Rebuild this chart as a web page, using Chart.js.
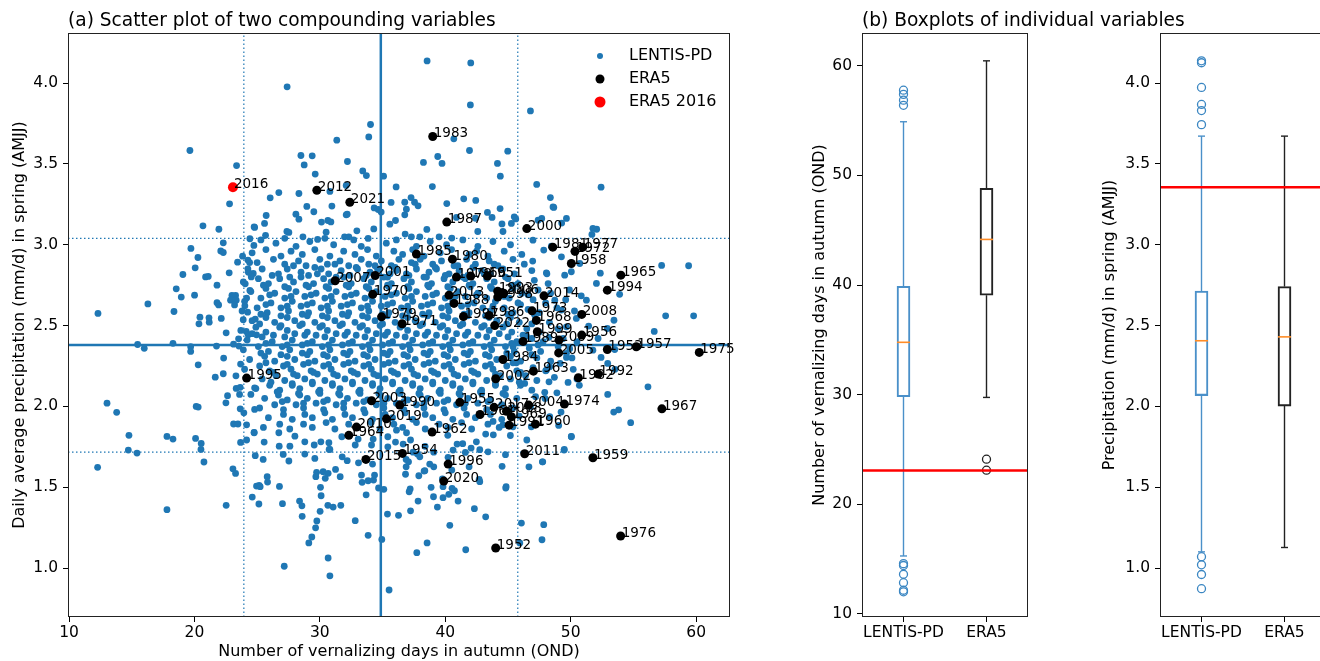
<!DOCTYPE html>
<html lang="en">
<head>
<meta charset="UTF-8" />
<title>Compounding variables: scatter and boxplots</title>
<script src="https://cdn.jsdelivr.net/npm/chart.js"></script>
<style>
  html, body { margin: 0; padding: 0; width: 1320px; height: 661px; overflow: hidden; background: #fff; }
  .panel { position: absolute; top: 0; height: 661px; }
  #pa { left: 0; width: 760px; }
  #pb1 { left: 800px; width: 520px; }
  #pb2 { left: 1090px; width: 250px; }
</style>
</head>
<body>
<div class="panel" id="pa"><canvas id="scatterChart"></canvas></div>
<div class="panel" id="pb1"><canvas id="boxVern"></canvas></div>
<div class="panel" id="pb2"><canvas id="boxPrecip"></canvas></div>

<script>
Chart.defaults.font.family = "'DejaVu Sans', sans-serif";
Chart.defaults.font.size = 15.5;
Chart.defaults.color = '#000';
Chart.defaults.animation = false;

// tick labels
const scatterXTicks = [10, 20, 30, 40, 50, 60];
const precipTicks = [1.0, 1.5, 2.0, 2.5, 3.0, 3.5, 4.0];
const vernTicks = [10, 20, 30, 40, 50, 60];
const boxGroups = ['LENTIS-PD', 'ERA5'];

// LENTIS-PD members: [vernalizing days, precipitation mm/d]
const lentisPts = [
  // left fringe
  [19.64,3.583],[23.36,3.49],[22.8,3.253],[20.68,3.117],[21.95,3.096],[24.8,3.107],[24.42,3.037],[22.3,3.012],[24.74,2.996],[19.72,2.977],
  [22.1,2.962],[22.3,2.952],[20.28,2.921],[23.84,2.929],[23.44,2.892],[24.26,2.905],[24.4,2.89],[20.06,2.857],[24.26,2.851],[19.08,2.816],
  [22.77,2.826],[24.69,2.822],[24.53,2.801],[20.89,2.801],[21.1,2.804],[21.8,2.75],[24.05,2.758],[18.55,2.727],[24.42,2.717],[20.01,2.688],
  [18.95,2.676],[22.99,2.686],[23.28,2.686],[22.88,2.657],[23.33,2.657],[23.2,2.628],[24.16,2.67],[16.29,2.634],[21.8,2.641],[21.93,2.628],
  [24.02,2.622],[12.31,2.575],[18.37,2.587],[24.24,2.583],[20.44,2.552],[20.36,2.511],[21.16,2.548],[21.18,2.521],[22.14,2.544],[23.89,2.536],
  [24.85,2.54],[22.53,2.455],[24.13,2.464],[24.29,2.443],[23.52,2.418],[24.95,2.443],[15.47,2.383],[16.0,2.359],[18.29,2.39],[19.7,2.369],
  [19.7,2.34],[21.76,2.373],[23.12,2.385],[23.55,2.373],[22.33,2.299],[20.3,2.257],[23.68,2.262],[21.66,2.181],[22.3,2.202],[23.31,2.189],
  [23.33,2.111],[23.65,2.118],[23.6,2.074],[24.8,2.115],[24.5,2.074],[22.64,2.066],[22.51,2.022],[13.03,2.02],[13.8,1.963],[20.14,2.0],
  [20.3,1.996],[23.65,1.985],[23.94,1.96],[24.8,1.981],[23.12,1.891],[23.47,1.891],[24.16,1.886],[24.76,1.839],[14.78,1.821],[17.81,1.814],
  [18.29,1.798],[20.09,1.802],[20.54,1.771],[20.52,1.734],[23.68,1.777],[24.16,1.792],[14.73,1.73],[15.42,1.711],[24.85,1.695],[12.28,1.623],
  [20.76,1.656],[23.07,1.614],[23.28,1.585],[24.61,1.439],[17.81,1.361],[22.53,1.388],[24.95,1.507],
  // lower part
  [25.48,1.672],[27.08,1.703],[27.53,1.662],[28.8,1.705],[29.6,1.678],[30.74,1.734],[31.78,1.688],[32.18,1.664],[33.08,1.651],[34.2,1.643],
  [29.74,1.592],[29.68,1.565],[30.26,1.596],[30.66,1.586],[30.43,1.555],[31.25,1.61],[31.62,1.565],[33.32,1.575],[33.37,1.53],[33.85,1.54],
  [34.28,1.544],[34.36,1.575],[34.68,1.495],[35.1,1.487],[25.8,1.565],[25.83,1.532],[25.16,1.511],[25.24,1.503],[26.78,1.505],[25.14,1.396],
  [27.02,1.398],[28.38,1.414],[28.57,1.385],[28.59,1.32],[30.05,1.499],[30.1,1.447],[30.02,1.351],[30.64,1.388],[31.06,1.377],[31.67,1.388],
  [29.76,1.291],[29.66,1.249],[29.36,1.192],[29.12,1.155],[32.82,1.293],[33.85,1.202],[33.69,1.453],[30.66,1.062],[30.8,0.952],[27.16,1.011],
  [34.94,1.177],[35.52,0.864],[35.39,1.334],[36.27,1.326],[37.23,1.354],[37.2,1.489],[37.12,1.472],[37.83,1.414],[36.83,1.58],[36.88,1.626],
  [37.89,1.571],[38.37,1.602],[39.08,1.626],[38.87,1.499],[39.06,1.441],[39.37,1.377],[39.82,1.435],[40.28,1.456],[40.73,1.478],[40.54,1.493],
  [39.82,1.503],[41.02,1.414],[40.36,1.264],[38.55,1.155],[37.73,1.095],[41.63,1.113],[42.32,1.367],[43.22,1.317],[42.7,1.549],[42.75,1.534],
  [41.9,1.626],[40.52,1.606],[43.41,1.719],[44.53,1.629],[44.8,1.701],[44.82,1.495],[46.07,1.278],[47.85,1.268],[47.71,1.175],[46.67,1.626],
  [47.77,1.657],[49.47,1.73],[50.05,1.814],[45.94,1.155],[43.83,1.824],[45.19,1.82],[46.5,1.792],[43.22,1.829],[42.48,1.781],[42.06,1.742],
  [42.75,1.732],[39.08,1.717],[38.39,1.753],[37.78,1.705],[36.88,1.672],[37.07,1.657],[38.76,1.643],[38.31,1.6],[39.77,1.552],[41.6,1.715],
  [41.39,1.769],[40.2,1.821],[40.94,1.767],[24.76,1.837],[25.56,1.779],[26.73,1.837],[26.76,1.754],[27.61,1.754],[28.8,1.781],[28.01,1.816],
  [29.55,1.761],[30.08,1.781],[30.8,1.734],[30.72,1.775],[31.75,1.812],[32.82,1.761],[33.05,1.798],[34.12,1.761],[34.25,1.798],[35.42,1.812],
  [35.42,1.75],[36.03,1.779],[36.64,1.767],[37.23,1.792],[37.43,1.717],[37.97,1.688],[36.11,1.853],[36.91,1.837],[40.22,1.685],[40.62,1.73],
  [43.81,1.907],[44.6,1.886],[45.4,1.874],
  // upper part
  [38.55,4.137],[42.03,4.125],[27.39,3.977],[42.0,3.865],[46.79,3.828],[34.04,3.744],[33.9,3.667],[31.35,3.647],[40.68,3.655],[28.49,3.552],
  [29.39,3.55],[28.75,3.494],[32.2,3.515],[41.93,3.583],[44.98,3.579],[39.4,3.546],[39.74,3.503],[38.26,3.509],[44.16,3.503],[44.39,3.424],
  [29.63,3.437],[33.42,3.457],[33.71,3.428],[35.08,3.424],[38.97,3.36],[36.08,3.358],[32.1,3.367],[26.73,3.323],[28.33,3.317],[26.04,3.29],
  [30.8,3.33],[47.29,3.373],[52.42,3.356],[48.38,3.292],[48.65,3.231],[30.96,3.239],[28.96,3.237],[28.09,3.189],[28.33,3.158],[29.52,3.204],
  [25.72,3.181],[25.59,3.132],[24.76,3.111],[30.13,3.14],[30.64,3.15],[30.88,3.141],[32.1,3.185],[32.18,3.189],[34.33,3.228],[34.65,3.218],
  [34.89,3.202],[35.68,3.262],[36.77,3.263],[36.9,3.22],[36.77,3.185],[37.27,3.292],[37.55,3.263],[37.83,3.241],[36.03,3.15],[35.58,3.127],
  [40.12,3.255],[41.47,3.284],[42.43,3.274],[43.36,3.2],[43.73,3.169],[44.37,3.224],[44.52,3.129],[44.6,3.082],[45.27,3.132],[45.5,3.173],
  [45.62,3.16],[42.41,3.164],[40.89,3.169],[42.59,3.082],[38.53,3.095],[47.69,3.163],[49.28,3.134],[52.07,3.096],[51.69,3.064],[32.95,3.086],
  [34.3,3.098],[30.5,3.078],[27.37,3.082],[27.53,3.076],[25.67,3.058],[28.65,3.049],[29.82,3.033],[36.8,3.066],[37.3,3.049],[37.97,3.049],
  [39.51,3.049],[40.52,3.041],[31.97,3.049],[32.31,3.049],[33.85,3.039],
  // right fringe
  [46.97,2.899],[48.06,2.826],[49.52,2.812],[50.05,2.833],[50.84,2.684],[52.36,2.824],[53.9,2.693],[57.25,2.872],[57.57,2.56],[56.66,2.464],
  [53.45,2.533],[52.18,2.42],[52.92,2.482],[51.43,2.497],[49.66,2.492],[48.73,2.657],[49.26,2.596],[50.45,2.544],[51.77,2.348],[53.51,2.352],
  [47.4,3.152],[48.59,3.234],[49.66,3.163],[51.77,3.101],[48.46,2.991],[46.99,3.028],[47.85,2.967],[49.26,2.925],[50.72,2.884],[52.05,2.761],
  [51.25,2.657],[59.4,2.87],[59.8,2.56],[56.16,2.121],[54.78,1.899],[53.43,1.965],[53.82,1.979],[52.95,2.074],[50.05,1.812],[49.49,1.734],
  [47.74,1.657],[44.85,1.503],[50.69,2.13],[50.5,2.169],[49.79,2.148],[48.9,2.084],[49.23,1.965],[47.93,2.087],[47.95,2.049],[48.27,2.152],
  [50.2,2.229],[49.16,2.266],[52.95,2.266],[53.53,2.229],[52.42,2.303],[49.04,1.882],[48.33,1.936],[46.86,1.874],[48.27,2.427],[49.92,2.356],
  [49.66,2.328],[46.47,2.435],[45.4,2.369],[45.67,2.27],[46.33,2.142],[45.94,2.204],[48.06,2.224],[48.33,2.245],[49.66,2.303],
  // dense core
  [25.3,3.03],[26.5,3.01],[27.2,3.04],[28.1,2.99],[29.2,3.02],[30.4,3.04],[31.1,3.00],[32.7,3.03],[33.3,2.99],[35.3,3.01],[36.1,3.03],[37.7,2.99],[38.8,3.02],[40.1,3.00],[41.4,3.03],[42.6,2.99],[43.8,3.02],[45.2,3.00],
  [24.6,2.95],[25.7,2.97],[26.9,2.93],[27.7,2.96],[28.6,2.94],[29.6,2.97],[30.8,2.93],[31.9,2.96],[32.8,2.94],[33.8,2.97],[34.5,2.93],[35.9,2.96],[36.6,2.94],[37.4,2.97],[38.3,2.93],[39.6,2.95],[40.5,2.97],[41.9,2.94],[42.5,2.96],[43.4,2.93],[44.7,2.96],[46.1,2.94],
  [25.0,2.89],[26.3,2.91],[27.2,2.88],[28.3,2.90],[28.9,2.87],[30.0,2.91],[30.6,2.88],[31.6,2.90],[32.3,2.87],[33.3,2.91],[33.9,2.88],[34.9,2.90],[35.7,2.87],[36.3,2.91],[37.3,2.89],[38.0,2.91],[39.0,2.88],[39.7,2.90],[41.0,2.87],[41.7,2.91],[42.4,2.88],[43.5,2.90],[44.2,2.87],[45.4,2.91],[46.3,2.88],
  [24.3,2.83],[25.4,2.85],[26.7,2.82],[27.4,2.85],[28.5,2.83],[29.1,2.81],[30.1,2.85],[30.7,2.82],[31.7,2.84],[32.4,2.81],[33.0,2.85],[34.0,2.83],[34.6,2.85],[35.6,2.82],[36.1,2.84],[37.1,2.81],[37.7,2.85],[38.7,2.83],[39.3,2.85],[40.3,2.82],[41.1,2.84],[41.8,2.81],[42.9,2.84],[43.6,2.82],[44.6,2.85],[45.5,2.82],[46.9,2.84],[48.1,2.82],
  [23.9,2.77],[25.1,2.79],[25.9,2.76],[26.8,2.79],[27.9,2.77],[28.5,2.80],[29.5,2.76],[30.3,2.79],[30.9,2.77],[31.9,2.80],[32.5,2.76],[33.5,2.79],[34.1,2.77],[35.1,2.80],[35.7,2.76],[36.7,2.79],[37.3,2.77],[38.3,2.80],[38.9,2.76],[39.9,2.79],[40.6,2.77],[41.6,2.79],[42.2,2.76],[43.3,2.79],[43.9,2.77],[45.0,2.79],[45.8,2.76],[47.1,2.78],[48.2,2.76],
  [24.5,2.71],[25.7,2.73],[26.4,2.70],[27.5,2.73],[28.1,2.71],[29.1,2.74],[29.7,2.70],[30.7,2.73],[31.3,2.71],[32.3,2.74],[32.9,2.70],[33.9,2.73],[34.5,2.71],[35.5,2.74],[36.1,2.70],[37.1,2.73],[37.7,2.71],[38.7,2.74],[39.3,2.70],[40.4,2.73],[41.0,2.71],[42.0,2.74],[42.6,2.70],[43.7,2.73],[44.3,2.71],[45.4,2.73],[46.1,2.70],[47.4,2.72],[48.4,2.70],[49.9,2.72],
  [24.0,2.65],[25.3,2.67],[26.1,2.64],[27.2,2.67],[27.8,2.65],[28.8,2.68],[29.4,2.64],[30.4,2.67],[31.0,2.65],[32.0,2.68],[32.6,2.64],[33.6,2.67],[34.2,2.65],[35.2,2.68],[35.8,2.64],[36.8,2.67],[37.4,2.65],[38.4,2.68],[39.0,2.64],[40.0,2.67],[40.6,2.65],[41.6,2.68],[42.3,2.64],[43.3,2.67],[44.0,2.65],[45.1,2.67],[45.8,2.64],[47.0,2.66],[48.0,2.64],[49.6,2.66],
  [23.8,2.59],[25.0,2.61],[25.8,2.58],[26.9,2.61],[27.5,2.59],[28.5,2.62],[29.1,2.58],[30.1,2.61],[30.7,2.59],[31.7,2.62],[32.3,2.58],[33.3,2.61],[33.9,2.59],[34.9,2.62],[35.5,2.58],[36.5,2.61],[37.1,2.59],[38.1,2.62],[38.7,2.58],[39.7,2.61],[40.3,2.59],[41.3,2.62],[41.9,2.58],[43.0,2.61],[43.6,2.59],[44.7,2.61],[45.4,2.58],[46.6,2.60],[47.5,2.58],[48.9,2.61],[50.3,2.59],
  [24.6,2.53],[25.7,2.55],[26.4,2.52],[27.4,2.55],[28.0,2.53],[29.0,2.56],[29.6,2.52],[30.6,2.55],[31.2,2.53],[32.2,2.56],[32.8,2.52],[33.8,2.55],[34.4,2.53],[35.4,2.56],[36.0,2.52],[37.0,2.55],[37.6,2.53],[38.6,2.56],[39.2,2.52],[40.2,2.55],[40.8,2.53],[41.8,2.56],[42.4,2.52],[43.5,2.55],[44.1,2.53],[45.2,2.55],[45.9,2.52],[47.2,2.54],[48.3,2.52],
  [23.7,2.47],[24.9,2.49],[25.7,2.46],[26.8,2.49],[27.4,2.47],[28.4,2.50],[29.0,2.46],[30.0,2.49],[30.6,2.47],[31.6,2.50],[32.2,2.46],[33.2,2.49],[33.8,2.47],[34.8,2.50],[35.4,2.46],[36.4,2.49],[37.0,2.47],[38.0,2.50],[38.6,2.46],[39.6,2.49],[40.2,2.47],[41.2,2.50],[41.8,2.46],[42.9,2.49],[43.5,2.47],[44.6,2.49],[45.3,2.46],[46.5,2.48],[47.5,2.46],[49.0,2.48],
  [24.2,2.41],[25.4,2.43],[26.2,2.40],[27.2,2.43],[27.8,2.41],[28.8,2.44],[29.4,2.40],[30.4,2.43],[31.0,2.41],[32.0,2.44],[32.6,2.40],[33.6,2.43],[34.2,2.41],[35.2,2.44],[35.8,2.40],[36.8,2.43],[37.4,2.41],[38.4,2.44],[39.0,2.40],[40.0,2.43],[40.6,2.41],[41.6,2.44],[42.2,2.40],[43.3,2.43],[43.9,2.41],[45.0,2.43],[45.7,2.40],[46.9,2.42],[47.8,2.40],[49.4,2.42],[50.5,2.40],
  [23.9,2.35],[25.1,2.37],[25.9,2.34],[27.0,2.37],[27.6,2.35],[28.6,2.38],[29.2,2.34],[30.2,2.37],[30.8,2.35],[31.8,2.38],[32.4,2.34],[33.4,2.37],[34.0,2.35],[35.0,2.38],[35.6,2.34],[36.6,2.37],[37.2,2.35],[38.2,2.38],[38.8,2.34],[39.8,2.37],[40.4,2.35],[41.4,2.38],[42.0,2.34],[43.1,2.37],[43.7,2.35],[44.8,2.37],[45.5,2.34],[46.7,2.36],[47.6,2.34],[49.0,2.37],
  [24.4,2.29],[25.6,2.31],[26.4,2.28],[27.4,2.31],[28.0,2.29],[29.0,2.32],[29.6,2.28],[30.6,2.31],[31.2,2.29],[32.2,2.32],[32.8,2.28],[33.8,2.31],[34.4,2.29],[35.4,2.32],[36.0,2.28],[37.0,2.31],[37.6,2.29],[38.6,2.32],[39.2,2.28],[40.2,2.31],[40.8,2.29],[41.8,2.32],[42.4,2.28],[43.5,2.31],[44.1,2.29],[45.2,2.31],[46.0,2.28],[47.3,2.30],[48.4,2.28],[50.1,2.30],
  [24.0,2.23],[25.2,2.25],[26.0,2.22],[27.1,2.25],[27.7,2.23],[28.7,2.26],[29.3,2.22],[30.3,2.25],[30.9,2.23],[31.9,2.26],[32.5,2.22],[33.5,2.25],[34.1,2.23],[35.1,2.26],[35.7,2.22],[36.7,2.25],[37.3,2.23],[38.3,2.26],[38.9,2.22],[39.9,2.25],[40.5,2.23],[41.5,2.26],[42.1,2.22],[43.2,2.25],[43.8,2.23],[44.9,2.25],[45.7,2.22],[47.0,2.24],[48.0,2.22],
  [25.4,2.17],[26.5,2.19],[27.2,2.16],[28.2,2.19],[28.8,2.17],[29.8,2.20],[30.4,2.16],[31.4,2.19],[32.0,2.17],[33.0,2.20],[33.6,2.16],[34.6,2.19],[35.2,2.17],[36.2,2.20],[36.8,2.16],[37.8,2.19],[38.4,2.17],[39.4,2.20],[40.0,2.16],[41.0,2.19],[41.6,2.17],[42.6,2.20],[43.3,2.16],[44.4,2.19],[45.2,2.17],[46.4,2.19],[47.3,2.16],[48.7,2.18],
  [24.9,2.11],[26.0,2.13],[26.8,2.10],[27.8,2.13],[28.4,2.11],[29.4,2.14],[30.0,2.10],[31.0,2.13],[31.6,2.11],[32.6,2.14],[33.2,2.10],[34.2,2.13],[34.8,2.11],[35.8,2.14],[36.4,2.10],[37.4,2.13],[38.0,2.11],[39.0,2.14],[39.6,2.10],[40.6,2.13],[41.2,2.11],[42.2,2.14],[42.9,2.10],[44.0,2.13],[44.8,2.11],[46.0,2.13],[46.9,2.10],
  [25.6,2.05],[26.7,2.07],[27.4,2.04],[28.4,2.07],[29.0,2.05],[30.0,2.08],[30.6,2.04],[31.6,2.07],[32.2,2.05],[33.2,2.08],[33.8,2.04],[34.8,2.07],[35.4,2.05],[36.4,2.08],[37.0,2.04],[38.0,2.07],[38.6,2.05],[39.6,2.08],[40.2,2.04],[41.2,2.07],[41.8,2.05],[42.9,2.08],[43.6,2.04],[44.8,2.07],[45.7,2.05],[47.2,2.06],
  [25.2,1.99],[26.4,2.01],[27.1,1.98],[28.1,2.01],[28.7,1.99],[29.7,2.02],[30.3,1.98],[31.3,2.01],[31.9,1.99],[32.9,2.02],[33.5,1.98],[34.5,2.01],[35.1,1.99],[36.1,2.02],[36.7,1.98],[37.7,2.01],[38.3,1.99],[39.3,2.02],[39.9,1.98],[40.9,2.01],[41.5,1.99],[42.6,2.02],[43.3,1.98],[44.5,2.01],[45.4,1.99],[46.8,2.00],
  [25.9,1.93],[27.1,1.95],[27.8,1.92],[28.8,1.95],[29.4,1.93],[30.4,1.96],[31.0,1.92],[32.0,1.95],[32.6,1.93],[33.6,1.96],[34.2,1.92],[35.2,1.95],[35.8,1.93],[36.8,1.96],[37.4,1.92],[38.4,1.95],[39.0,1.93],[40.0,1.96],[40.6,1.92],[41.7,1.95],[42.4,1.93],[43.6,1.95],[44.5,1.92],[45.9,1.94],
  [25.5,1.87],[26.8,1.89],[27.6,1.86],[28.7,1.89],[29.4,1.87],[30.5,1.90],[31.2,1.86],[32.3,1.89],[33.0,1.87],[34.1,1.90],[34.8,1.86],[35.9,1.89],[36.6,1.87],[37.7,1.90],[38.4,1.86],[39.5,1.89],[40.2,1.87],[41.3,1.90],[42.1,1.86],[43.4,1.89],[44.3,1.87],
  // densest middle
  [27.9,2.87],[29.6,2.86],[31.2,2.88],[32.9,2.86],[34.4,2.87],[36.0,2.86],[37.6,2.88],[39.2,2.86],[40.7,2.87],[42.2,2.86],[43.9,2.88],
  [26.2,2.81],[27.6,2.80],[29.8,2.82],[31.3,2.80],[33.7,2.81],[35.4,2.80],[36.9,2.82],[38.5,2.80],[40.0,2.81],[41.4,2.80],[43.1,2.82],[44.8,2.80],
  [25.5,2.75],[27.2,2.74],[28.9,2.75],[30.5,2.74],[32.1,2.75],[33.7,2.74],[35.4,2.75],[37.0,2.74],[38.6,2.75],[40.2,2.74],[41.9,2.75],[43.6,2.74],[45.4,2.75],
  [26.0,2.69],[27.7,2.68],[29.3,2.69],[30.9,2.68],[32.5,2.69],[34.1,2.68],[35.7,2.69],[37.3,2.68],[39.0,2.69],[40.8,2.68],[42.5,2.69],[44.7,2.68],[46.6,2.69],
  [25.7,2.63],[27.4,2.62],[29.0,2.63],[30.6,2.62],[32.2,2.63],[33.8,2.62],[35.4,2.63],[37.0,2.62],[38.6,2.63],[40.2,2.62],[41.8,2.63],[43.8,2.62],[46.0,2.63],
  [25.3,2.57],[26.9,2.56],[28.6,2.57],[30.2,2.56],[31.8,2.57],[33.4,2.56],[35.0,2.57],[36.6,2.56],[38.2,2.57],[39.8,2.56],[41.5,2.57],[43.2,2.56],[45.0,2.57],[47.1,2.57],
  [25.2,2.51],[26.9,2.50],[28.6,2.51],[30.2,2.50],[31.8,2.51],[33.4,2.50],[35.0,2.51],[36.6,2.50],[38.2,2.51],[39.8,2.50],[41.4,2.51],[43.1,2.50],[44.9,2.51],[46.9,2.51],
  [24.6,2.45],[26.3,2.44],[28.0,2.45],[29.7,2.44],[31.3,2.45],[32.9,2.44],[34.5,2.45],[36.1,2.44],[37.7,2.45],[39.3,2.44],[40.9,2.45],[42.6,2.44],[44.3,2.45],[46.2,2.44],
  [25.7,2.39],[27.4,2.38],[29.0,2.39],[30.7,2.38],[32.3,2.39],[33.9,2.38],[35.5,2.39],[37.1,2.38],[38.7,2.39],[40.3,2.38],[41.9,2.39],[43.6,2.38],[45.3,2.39],[47.4,2.38],
  [25.3,2.33],[26.9,2.32],[28.6,2.33],[30.3,2.32],[31.9,2.33],[33.5,2.32],[35.1,2.33],[36.7,2.32],[38.3,2.33],[39.9,2.32],[41.5,2.33],[43.2,2.32],[44.9,2.33],[46.9,2.32],
  [25.7,2.27],[27.4,2.26],[29.1,2.27],[30.7,2.26],[32.3,2.27],[33.9,2.26],[35.5,2.27],[37.1,2.26],[38.7,2.27],[40.3,2.26],[41.9,2.27],[43.6,2.26],[45.4,2.27],
  [26.3,2.21],[27.9,2.20],[29.5,2.21],[31.1,2.20],[32.7,2.21],[34.3,2.20],[35.9,2.21],[37.5,2.20],[39.1,2.21],[40.7,2.20],[42.3,2.21],[44.0,2.20],[46.0,2.21],
  [26.1,2.15],[27.8,2.14],[29.4,2.15],[31.0,2.14],[32.6,2.15],[34.2,2.14],[35.8,2.15],[37.4,2.14],[39.0,2.15],[40.6,2.14],[42.2,2.15],[44.0,2.14],[45.9,2.15],
  [26.6,2.09],[28.3,2.08],[29.9,2.09],[31.5,2.08],[33.1,2.09],[34.7,2.08],[36.3,2.09],[37.9,2.08],[39.5,2.09],[41.1,2.08],[42.8,2.09],[44.6,2.08],
  [27.0,2.03],[28.7,2.02],[30.3,2.03],[31.9,2.02],[33.5,2.03],[35.1,2.02],[36.7,2.03],[38.3,2.02],[39.9,2.03],[41.6,2.02],[43.4,2.03]
];

// ERA5 years with their two variables
const era5Years = [2012,2021,1983,1987,2000,1981,1977,1972,1958,1965,1994,1985,1980,1978,1966,1951,1993,2006,1998,2014,
  2013,1988,1973,2008,1997,1986,2022,1968,1999,1956,2009,1989,1953,1957,2005,1984,1975,1963,2002,1982,
  1992,1974,2004,1967,2017,1961,2018,1969,1991,1960,2011,1959,1976,1952,1995,2003,1990,2019,2010,1964,
  1955,1962,1954,2015,1996,2020,2007,2001,1970,1979,1971];
const era5Vern = [29.76,32.39,39.0,40.12,46.5,48.57,50.96,50.34,50.05,54.0,52.92,37.7,40.57,40.89,42.03,43.36,44.18,44.66,44.18,47.87,
  40.3,40.7,46.92,50.88,41.45,43.49,43.94,47.26,47.34,50.88,49.07,46.2,52.92,55.23,49.04,44.6,60.25,47.03,44.02,50.61,
  52.2,49.5,46.65,57.27,43.89,42.77,44.88,45.27,45.09,47.19,46.33,51.77,53.98,44.02,24.16,34.12,36.37,35.31,32.92,32.31,
  41.16,38.95,36.58,33.67,40.23,39.88,31.22,34.41,34.22,34.92,36.56];
const era5Precip = [3.337,3.263,3.67,3.14,3.10,2.985,2.985,2.96,2.884,2.812,2.719,2.942,2.911,2.80,2.806,2.806,2.713,2.70,2.676,2.684,
  2.688,2.637,2.591,2.569,2.556,2.563,2.50,2.532,2.462,2.441,2.41,2.402,2.352,2.369,2.331,2.29,2.334,2.218,2.171,2.177,
  2.20,2.014,2.008,1.985,1.994,1.95,1.97,1.936,1.884,1.89,1.707,1.682,1.198,1.124,2.175,2.035,2.008,1.923,1.872,1.821,
  2.025,1.841,1.709,1.672,1.643,1.538,2.777,2.81,2.693,2.554,2.511];
const era5Years2016 = [2016];
const era5Vern2016 = [23.07];
const era5Precip2016 = [3.356];

// LENTIS-PD mean and 10/90 percentiles
const vernMeanLine = [34.86];
const vernPctLines = [23.94, 45.78];
const precipMeanLine = [2.379];
const precipPctLines = [1.717, 3.04];

// boxplot statistics [LENTIS-PD, ERA5]
const vernQ1 = [29.81, 39.07];
const vernMed = [34.77, 44.16];
const vernQ3 = [39.89, 48.82];
const vernLo = [15.27, 29.74];
const vernHi = [54.9, 60.46];
const vernOutLentis = [57.78, 57.4, 56.87, 56.4, 14.57, 14.4, 13.6, 12.83, 12.14, 12.0];
const vernOutEra5 = [24.1, 23.1];

const precipQ1 = [2.067, 2.002];
const precipMed = [2.406, 2.43];
const precipQ3 = [2.713, 2.741];
const precipLo = [1.10, 1.127];
const precipHi = [3.672, 3.672];
const precipOutLentis = [4.138, 4.126, 3.973, 3.868, 3.83, 3.743, 1.07, 1.02, 0.96, 0.872];
const precipOutEra5 = [];

const C0 = '#1f77b4';
const boxColors = ['#4a90c9', '#222222'];

// full frame round the plot area
const framePlugin = {
  id: 'frame',
  afterDraw(chart) {
    const a = chart.chartArea, ctx = chart.ctx;
    ctx.save();
    ctx.strokeStyle = '#222';
    ctx.lineWidth = 1;
    ctx.strokeRect(a.left + 0.5, a.top + 0.5, a.right - a.left - 1, a.bottom - a.top - 1);
    ctx.restore();
  }
};

const panelTitle = {
  id: 'panelTitle',
  afterDraw(chart, args, opts) {
    if (!opts.text) return;
    const ctx = chart.ctx;
    ctx.save();
    ctx.font = "18.6px 'DejaVu Sans'";
    ctx.fillStyle = '#000';
    ctx.textBaseline = 'alphabetic';
    ctx.fillText(opts.text, chart.chartArea.left, 26);
    ctx.restore();
  }
};

// year next to each ERA5 dot
const yearLabels = {
  id: 'yearLabels',
  afterDatasetsDraw(chart) {
    const ctx = chart.ctx;
    ctx.save();
    ctx.font = "13.5px 'DejaVu Sans'";
    ctx.fillStyle = '#000';
    ctx.textBaseline = 'alphabetic';
    chart.data.datasets.forEach((ds, i) => {
      if (!ds.years) return;
      chart.getDatasetMeta(i).data.forEach((pt, j) => ctx.fillText(String(ds.years[j]), pt.x + 1, pt.y + 1));
    });
    ctx.restore();
  }
};

// legend inside the top right corner of the plot
const insideLegend = {
  id: 'insideLegend',
  afterDraw(chart) {
    const a = chart.chartArea, ctx = chart.ctx;
    const items = chart.data.datasets.filter(ds => ds.inLegend);
    ctx.save();
    ctx.font = "16px 'DejaVu Sans'";
    ctx.textBaseline = 'middle';
    items.forEach((ds, k) => {
      const y = a.top + 23 + k * 23;
      ctx.beginPath();
      ctx.arc(a.right - 130, y, ds.legendRadius, 0, 2 * Math.PI);
      ctx.fillStyle = ds.pointBackgroundColor;
      ctx.fill();
      ctx.fillStyle = '#000';
      ctx.fillText(ds.label, a.right - 101, y);
    });
    ctx.restore();
  }
};

function axisCommon() {
  return {
    grid: { drawOnChartArea: false, drawTicks: true, tickLength: 5, color: '#000', offset: false },
    border: { display: false }
  };
}

// ---------- (a) scatter ----------
const sxMin = 9.92, sxMax = 62.7, syMin = 0.697, syMax = 4.31;

function vLine(x, dotted) {
  return { data: [{x: x, y: syMin}, {x: x, y: syMax}], showLine: true, borderColor: C0,
    borderWidth: dotted ? 1.2 : 2.5, borderDash: dotted ? [1.5, 2.5] : [], pointRadius: 0, order: 2 };
}
function hLine(y, dotted) {
  return { data: [{x: sxMin, y: y}, {x: sxMax, y: y}], showLine: true, borderColor: C0,
    borderWidth: dotted ? 1.2 : 2.5, borderDash: dotted ? [1.5, 2.5] : [], pointRadius: 0, order: 2 };
}

new Chart(document.getElementById('scatterChart'), {
  type: 'scatter',
  data: {
    datasets: [
      { label: 'LENTIS-PD', data: lentisPts.map(p => ({x: p[0], y: p[1]})),
        pointRadius: 3.4, pointBackgroundColor: C0, pointBorderWidth: 0, order: 4,
        inLegend: true, legendRadius: 3 },
      { label: 'ERA5', data: era5Vern.map((v, i) => ({x: v, y: era5Precip[i]})),
        pointRadius: 4.5, pointBackgroundColor: '#000', pointBorderWidth: 0, order: 1,
        inLegend: true, legendRadius: 4.5, years: era5Years },
      { label: 'ERA5 2016', data: era5Vern2016.map((v, i) => ({x: v, y: era5Precip2016[i]})),
        pointRadius: 5, pointBackgroundColor: '#ff0000', pointBorderWidth: 0, order: 0,
        inLegend: true, legendRadius: 5.5, years: era5Years2016 },
      ...vernMeanLine.map(v => vLine(v, false)),
      ...vernPctLines.map(v => vLine(v, true)),
      ...precipMeanLine.map(v => hLine(v, false)),
      ...precipPctLines.map(v => hLine(v, true))
    ]
  },
  options: {
    responsive: true,
    maintainAspectRatio: false,
    events: [],
    layout: { padding: { left: 0, top: 33, right: 30, bottom: 0 } },
    plugins: {
      legend: { display: false },
      tooltip: { enabled: false },
      panelTitle: { text: '(a) Scatter plot of two compounding variables' }
    },
    scales: {
      x: {
        type: 'linear', min: sxMin, max: sxMax,
        afterBuildTicks: s => { s.ticks = scatterXTicks.map(v => ({value: v})); },
        afterFit: s => { s.height = 44; },
        ticks: { padding: 2, autoSkip: false, maxRotation: 0, callback: v => String(v) },
        title: { display: true, text: 'Number of vernalizing days in autumn (OND)', font: { size: 16 }, padding: { top: 0, bottom: 0 } },
        ...axisCommon()
      },
      y: {
        type: 'linear', min: syMin, max: syMax,
        afterBuildTicks: s => { s.ticks = precipTicks.map(v => ({value: v})); },
        afterFit: s => { s.width = 68; },
        ticks: { padding: 5, autoSkip: false, callback: v => v.toFixed(1) },
        title: { display: true, text: 'Daily average precipitation (mm/d) in spring (AMJJ)', font: { size: 16 }, padding: { top: 10, bottom: 0 } },
        ...axisCommon()
      }
    }
  },
  plugins: [framePlugin, panelTitle, yearLabels, insideLegend]
});

// ---------- (b) boxplots ----------
function boxDatasets(q1, med, q3, lo, hi, outLentis, outEra5, refValue) {
  const ds = [];
  ds.push({ type: 'bar', data: boxGroups.map((g, i) => ({x: i, y: [q1[i], q3[i]]})),
    backgroundColor: 'rgba(0,0,0,0)', borderColor: boxColors, borderWidth: 1.4,
    borderSkipped: false, barThickness: 13, grouped: false, order: 3 });
  boxGroups.forEach((g, i) => {
    ds.push({ data: [{x: i, y: q3[i]}, {x: i, y: hi[i]}], showLine: true,
      borderColor: boxColors[i], borderWidth: 1.4, pointRadius: 0, order: 3 });
    ds.push({ data: [{x: i, y: q1[i]}, {x: i, y: lo[i]}], showLine: true,
      borderColor: boxColors[i], borderWidth: 1.4, pointRadius: 0, order: 3 });
  });
  ds.push({ data: boxGroups.map((g, i) => ({x: i, y: hi[i]})).concat(boxGroups.map((g, i) => ({x: i, y: lo[i]}))),
    pointStyle: 'line', pointRadius: 3.5, pointBorderWidth: 1.4,
    pointBorderColor: [boxColors[0], boxColors[1], boxColors[0], boxColors[1]], order: 3 });
  ds.push({ data: boxGroups.map((g, i) => ({x: i, y: med[i]})),
    pointStyle: 'line', pointRadius: 6.5, pointBorderWidth: 1.6, pointBorderColor: '#ff8c26', order: 2 });
  ds.push({ data: outLentis.map(v => ({x: 0, y: v})), pointStyle: 'circle', pointRadius: 4,
    pointBackgroundColor: 'rgba(0,0,0,0)', pointBorderColor: '#3a86c2', pointBorderWidth: 1.3, order: 3 });
  ds.push({ data: outEra5.map(v => ({x: 1, y: v})), pointStyle: 'circle', pointRadius: 4,
    pointBackgroundColor: 'rgba(0,0,0,0)', pointBorderColor: '#222', pointBorderWidth: 1.3, order: 3 });
  ds.push({ data: [{x: -0.5, y: refValue}, {x: 1.5, y: refValue}], showLine: true,
    borderColor: '#ff0000', borderWidth: 2.6, pointRadius: 0, order: 0 });
  return ds;
}

function boxChart(id, cfg) {
  new Chart(document.getElementById(id), {
    type: 'scatter',
    data: { datasets: cfg.datasets },
    options: {
      responsive: true,
      maintainAspectRatio: false,
      events: [],
      layout: { padding: { left: 0, top: 33, right: cfg.padRight, bottom: 0 } },
      plugins: {
        legend: { display: false },
        tooltip: { enabled: false },
        panelTitle: { text: cfg.title }
      },
      scales: {
        x: {
          type: 'linear', min: -0.5, max: 1.5, offset: false,
          afterBuildTicks: s => { s.ticks = boxGroups.map((g, i) => ({value: i})); },
          afterFit: s => { s.height = 44; },
          ticks: { padding: 2, autoSkip: false, maxRotation: 0, callback: v => boxGroups[v] },
          ...axisCommon()
        },
        y: {
          type: 'linear', min: cfg.yMin, max: cfg.yMax,
          afterBuildTicks: s => { s.ticks = cfg.ticks.map(v => ({value: v})); },
          afterFit: s => { s.width = cfg.yWidth; },
          ticks: { padding: 5, autoSkip: false, callback: cfg.fmt },
          title: { display: true, text: cfg.yTitle, font: { size: 16 }, padding: { top: 10, bottom: 0 } },
          ...axisCommon()
        }
      }
    },
    plugins: [framePlugin, panelTitle]
  });
}

boxChart('boxVern', {
  datasets: boxDatasets(vernQ1, vernMed, vernQ3, vernLo, vernHi, vernOutLentis, vernOutEra5, era5Vern2016[0]),
  title: '(b) Boxplots of individual variables',
  yMin: 9.7, yMax: 63.0, ticks: vernTicks, fmt: v => String(v),
  yWidth: 62, padRight: 292,
  yTitle: 'Number of vernalizing days in autumn (OND)'
});

boxChart('boxPrecip', {
  datasets: boxDatasets(precipQ1, precipMed, precipQ3, precipLo, precipHi, precipOutLentis, precipOutEra5, era5Precip2016[0]),
  title: '',
  yMin: syMin, yMax: syMax, ticks: precipTicks, fmt: v => v.toFixed(1),
  yWidth: 70, padRight: 14,
  yTitle: 'Precipitation (mm/d) in spring (AMJJ)'
});
</script>
</body>
</html>
